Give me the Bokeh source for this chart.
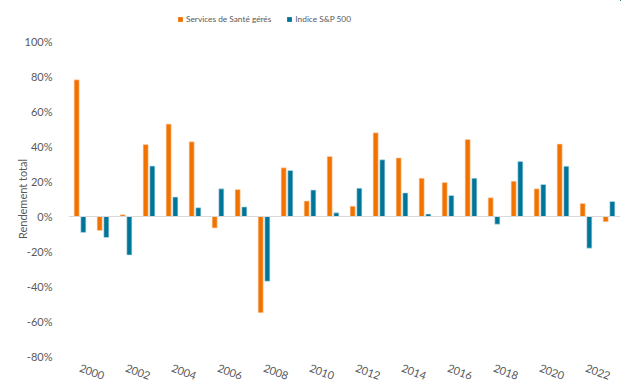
from bokeh.plotting import figure
from bokeh.layouts import column
from bokeh.models import ColumnDataSource, Legend, LegendItem, FixedTicker, PrintfTickFormatter, Span, Range1d
from bokeh.embed import file_html
from bokeh.resources import INLINE

years = list(range(2000, 2024))
sante = [78.1, -8.0, 1.0, 41.1, 52.8, 42.7, -6.5, 15.4, -55.0, 27.8, 8.8, 34.3,
         5.9, 47.8, 33.5, 21.9, 19.4, 44.0, 10.7, 20.2, 15.8, 41.4, 7.4, -3.0]
sp500 = [-9.1, -12.0, -22.0, 28.8, 11.1, 5.0, 15.8, 5.5, -37.0, 26.3, 15.1, 2.1,
         16.2, 32.4, 13.5, 1.4, 12.0, 21.9, -4.4, 31.5, 18.3, 28.7, -18.1, 8.6]
series_names = ["Services de Santé gérés", "Indice S&P 500"]
y_ticks = [-80, -60, -40, -20, 0, 20, 40, 60, 80, 100]
x_ticks = list(range(2000, 2024, 2))

ORANGE = "#F27200"
BLUE = "#00759A"
GREY = "#595959"
FONT = "Lato"

src = ColumnDataSource(dict(
    x1=[y - 0.145 for y in years], x2=[y + 0.145 for y in years],
    s=sante, b=sp500))

# --- legend strip above the chart (same data, outside this strip's ranges) ---
lg = figure(width=624, height=33, output_backend="svg", toolbar_location=None,
            x_range=Range1d(0, 1), y_range=Range1d(-1000, -999),
            min_border_left=0, min_border_right=0, min_border_top=0, min_border_bottom=0)
lg.axis.visible = False
lg.grid.visible = False
lg.outline_line_color = None
d1 = lg.vbar(x="x1", top="s", bottom=0, width=0.22, source=src, fill_color=ORANGE, line_color=None)
d2 = lg.vbar(x="x2", top="b", bottom=0, width=0.22, source=src, fill_color=BLUE, line_color=None)
legend = Legend(items=[LegendItem(label=series_names[0], renderers=[d1]),
                       LegendItem(label=series_names[1], renderers=[d2])],
                orientation="horizontal", location=(109, 8),
                label_text_font=FONT, label_text_font_size="8.3px",
                label_text_color=GREY, glyph_width=6, glyph_height=6,
                spacing=15, label_standoff=3, border_line_color=None,
                background_fill_alpha=0, padding=2, margin=0,
                label_height=12)
lg.add_layout(legend)

# --- main chart ---
p = figure(frame_width=552, frame_height=315, output_backend="svg", toolbar_location=None,
           x_range=Range1d(1999.5, 2023.5), y_range=Range1d(-80, 100),
           min_border_left=68, min_border_right=4, min_border_top=8, min_border_bottom=30)
p.outline_line_color = None
p.grid.visible = False

r1 = p.vbar(x="x1", top="s", bottom=0, width=0.22, source=src,
            fill_color=ORANGE, line_color="#fbd9bf", line_width=0.6)
r2 = p.vbar(x="x2", top="b", bottom=0, width=0.22, source=src,
            fill_color=BLUE, line_color="#c5e3ee", line_width=0.6)

p.add_layout(Span(location=0, dimension="width", line_color="#d9d9d9", line_width=1))

p.xaxis.ticker = FixedTicker(ticks=x_ticks)
p.xaxis.axis_line_color = None
p.xaxis.major_tick_line_color = None
p.xaxis.minor_tick_line_color = None
p.xaxis.major_label_orientation = -0.35
p.xaxis.major_label_text_font = FONT
p.xaxis.major_label_text_font_size = "11px"
p.xaxis.major_label_text_color = GREY
p.xaxis.major_label_standoff = 5

p.yaxis.ticker = FixedTicker(ticks=y_ticks)
p.yaxis.formatter = PrintfTickFormatter(format="%d%%")
p.yaxis.axis_line_color = None
p.yaxis.major_tick_line_color = None
p.yaxis.minor_tick_line_color = None
p.yaxis.major_label_text_font = FONT
p.yaxis.major_label_text_font_size = "11px"
p.yaxis.major_label_text_color = GREY
p.yaxis.major_label_standoff = 10
p.yaxis.axis_label = "Rendement total"
p.yaxis.axis_label_text_font = FONT
p.yaxis.axis_label_text_font_size = "11px"
p.yaxis.axis_label_text_font_style = "normal"
p.yaxis.axis_label_text_color = GREY
p.yaxis.axis_label_standoff = -7

layout = column(lg, p, spacing=0)
open("out.html", "w").write(file_html(layout, INLINE))
